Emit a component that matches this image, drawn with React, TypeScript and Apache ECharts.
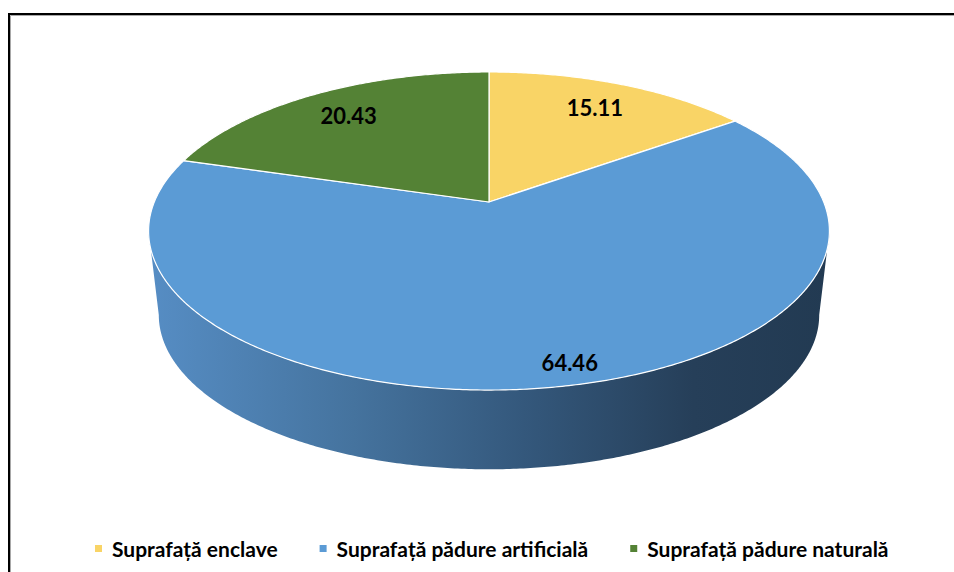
import React, { useEffect, useRef } from 'react';
import * as echarts from 'echarts';

const categories = ['Suprafață enclave', 'Suprafață pădure artificială', 'Suprafață pădure naturală'];
const values = [15.11, 64.46, 20.43];
const valueLabels = ['15.11', '64.46', '20.43'];
const colors = ['#F9D466', '#5B9BD5', '#548235'];

// projection geometry (pixels)
const CX = 489;
const AY = 202;
const B = 334.7;
const Q = -116.9;
const K = 0.1824;
const ECY = 231;
const SHRINK = 0.97;
const DEPTH = 84;
const FONT = 'Lato, "Open Sans", sans-serif';

function proj(theta: number, r = 1): number[] {
  const X = r * Math.sin(theta);
  const d = r * Math.cos(theta);
  const w = 1 + K * d;
  return [CX + (B * X) / w, (AY + Q * d) / w];
}
function projBottom(theta: number): number[] {
  const [x, y] = proj(theta);
  return [CX + SHRINK * (x - CX), ECY + SHRINK * (y - ECY) + DEPTH];
}
function arc(a0: number, a1: number, bottom = false): number[][] {
  const n = Math.max(2, Math.ceil(Math.abs(a1 - a0) / (Math.PI / 360)) + 1);
  const pts: number[][] = [];
  for (let i = 0; i < n; i++) {
    const t = a0 + ((a1 - a0) * i) / (n - 1);
    pts.push(bottom ? projBottom(t) : proj(t));
  }
  return pts;
}

const wallGradient = new echarts.graphic.LinearGradient(
  150, 0, 829, 0,
  [
    { offset: 0, color: '#568DC4' },
    { offset: 0.3, color: '#45739E' },
    { offset: 0.55, color: '#34587C' },
    { offset: 0.8, color: '#263F59' },
    { offset: 1, color: '#223A52' },
  ],
  true
);

export default function App() {
  const ref = useRef<HTMLDivElement>(null);
  useEffect(() => {
    if (!ref.current) return;
    const chart = echarts.init(ref.current, undefined, { renderer: 'svg' });
    const total = values.reduce((a, b) => a + b, 0);
    const series = categories.map((name, i) => ({
      type: 'custom',
      name,
      coordinateSystem: 'none',
      silent: true,
      itemStyle: { color: colors[i] },
      data: [[values[i]]],
      renderItem: (params: any, api: any) => {
        const v = api.value(0) as number;
        const before = values.slice(0, i).reduce((a, b) => a + b, 0);
        const start = (before / total) * Math.PI * 2;
        const end = start + (v / total) * Math.PI * 2;
        const children: any[] = [];
        const fL = Math.acos(-K);
        const fR = Math.PI * 2 - fL;
        const ws = Math.max(start, fL);
        const we = Math.min(end, fR);
        if (we > ws) {
          const pts = arc(ws, we).concat(arc(we, ws, true));
          children.push({
            type: 'polygon',
            shape: { points: pts },
            style: { fill: wallGradient, stroke: null },
          });
        }
        const topPts = [[CX, AY]].concat(arc(start, end));
        children.push({
          type: 'polygon',
          shape: { points: topPts },
          style: { fill: colors[i], stroke: '#ffffff', lineWidth: 1.2, lineJoin: 'round' },
        });
        const big = v > 50;
        const mid = (start + end) / 2 - (big ? 0.06 : 0);
        const lr = big ? 0.9 : 0.78;
        const [lx, ly] = proj(mid, lr);
        children.push({
          type: 'text',
          x: lx,
          y: ly,
          z2: 10,
          style: {
            text: valueLabels[i],
            fill: '#000000',
            fontSize: 22,
            fontWeight: 'bold',
            fontFamily: FONT,
            align: 'center',
            verticalAlign: 'middle',
          },
        });
        return { type: 'group', children };
      },
    }));
    chart.setOption({
      animation: false,
      backgroundColor: '#ffffff',
      legend: {
        data: categories,
        left: 95,
        top: 538,
        padding: 0,
        icon: 'rect',
        itemWidth: 7,
        itemHeight: 7,
        itemGap: 42,
        selectedMode: false,
        textStyle: {
          fontFamily: FONT,
          fontWeight: 'bold',
          fontSize: 21,
          color: '#000000',
          padding: [0, 0, 0, 5],
        },
      },
      graphic: [
        {
          type: 'rect',
          silent: true,
          shape: { x: 10.5, y: 15.5, width: 1000, height: 700 },
          style: { fill: null, stroke: '#a8a8a8', lineWidth: 1 },
        },
        {
          type: 'rect',
          silent: true,
          shape: { x: 9, y: 14, width: 1000, height: 700 },
          style: { fill: null, stroke: '#000000', lineWidth: 2 },
        },
      ],
      series,
    } as any);
    return () => chart.dispose();
  }, []);
  return (
    <div
      ref={ref}
      style={{ position: 'fixed', left: 0, top: 0, width: 954, height: 572 }}
    />
  );
}
